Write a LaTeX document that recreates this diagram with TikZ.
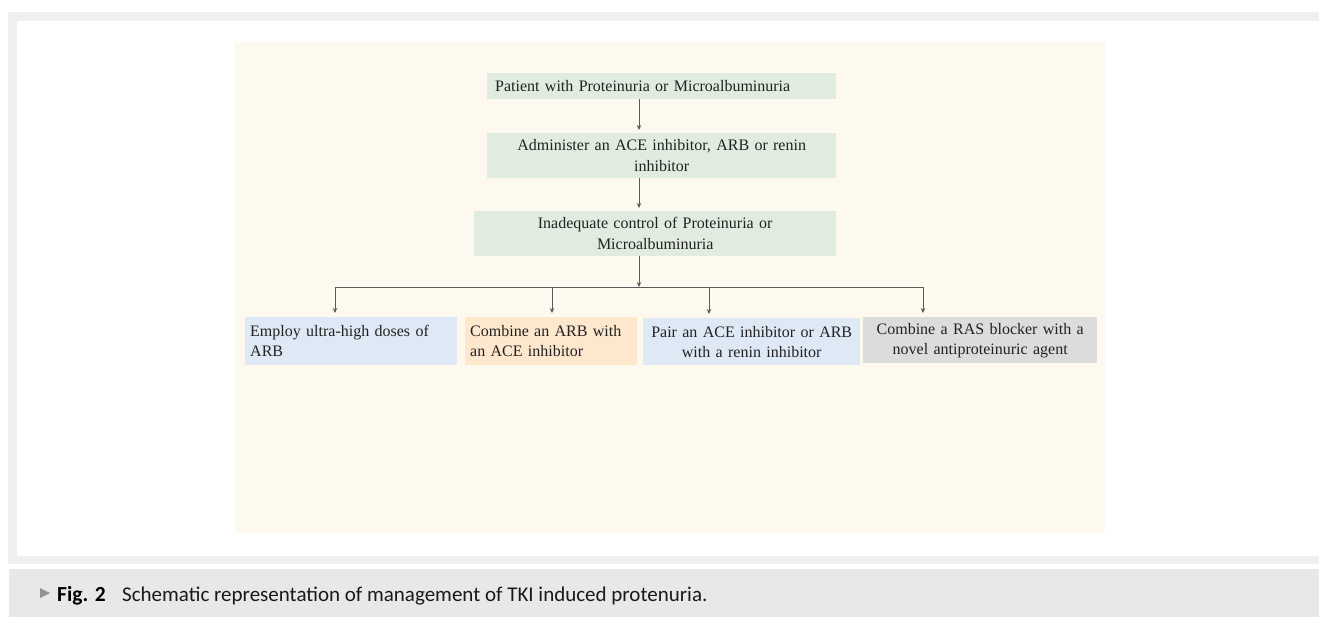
\documentclass[tikz,border=0pt]{standalone}
\usepackage{fontspec}
\setmainfont{Liberation Serif}
\newfontfamily\capfont{Carlito}
\usetikzlibrary{arrows.meta}
\definecolor{frameg}{HTML}{F0F0F0}
\definecolor{capg}{HTML}{E8E8E8}
\definecolor{cream}{HTML}{FEF9EE}
\definecolor{boxgreen}{HTML}{DFECDF}
\definecolor{boxblue}{HTML}{DEE9F5}
\definecolor{boxpeach}{HTML}{FDE8CE}
\definecolor{boxgray}{HTML}{DCDCDC}
\definecolor{linec}{HTML}{5A5A5A}
\definecolor{txt}{HTML}{222222}
\tikzset{
  flowbox/.style={anchor=north west, inner ysep=0pt, text=txt,
    font=\fontsize{16}{21}\selectfont},
  conn/.style={draw=linec, line width=0.8pt},
  arr/.style={conn, -{Stealth[length=5pt,width=4.5pt]}},
}
\begin{document}
\begin{tikzpicture}[x=1pt,y=-1pt]
\useasboundingbox (0,0) rectangle (1319,617);
\fill[white] (0,0) rectangle (1319,617);
% frame
\fill[frameg] (8,12) rectangle (1319,564);
\fill[white] (17,21) rectangle (1319,556);
\fill[capg] (9,569) rectangle (1319,617);
% cream panel
\fill[cream] (235,42) rectangle (1105,533);
% boxes
\node[flowbox, fill=boxgreen, minimum width=349pt, minimum height=26pt,
  text width=333pt, inner xsep=8pt, align=left] (b1) at (487,73)
  {Patient with Proteinuria or Microalbuminuria};
\node[flowbox, fill=boxgreen, minimum width=349pt, minimum height=45pt,
  text width=337pt, inner xsep=6pt, align=center] (b2) at (487,133)
  {Administer an ACE inhibitor, ARB or renin\\inhibitor};
\node[flowbox, fill=boxgreen, minimum width=362pt, minimum height=45pt,
  text width=350pt, inner xsep=6pt, align=center] (b3) at (474,211)
  {Inadequate control of Proteinuria or\\Microalbuminuria};
\node[flowbox, fill=boxblue, minimum width=212pt, minimum height=48pt,
  text width=202pt, inner xsep=5pt, align=left,
  font=\fontsize{16}{20}\selectfont] (ba) at (245,317)
  {Employ ultra-high doses of\\ARB};
\node[flowbox, fill=boxpeach, minimum width=172pt, minimum height=48pt,
  text width=162pt, inner xsep=5pt, align=left,
  font=\fontsize{16}{20}\selectfont] (bb) at (465,317)
  {Combine an ARB with\\an ACE inhibitor};
\node[flowbox, fill=boxblue, minimum width=217pt, minimum height=47pt,
  text width=207pt, inner xsep=5pt, align=center,
  font=\fontsize{16}{20}\selectfont] (bc) at (643,318)
  {Pair an ACE inhibitor or ARB\\with a renin inhibitor};
\node[flowbox, fill=boxgray, minimum width=234pt, minimum height=46pt,
  text width=224pt, inner xsep=5pt, align=center,
  font=\fontsize{16}{20}\selectfont] (bd) at (863,317)
  {Combine a RAS blocker with a\\novel antiproteinuric agent};
% connectors
\coordinate (ax) at (639,0);
\coordinate (j) at (639,287);
\coordinate (jl) at (335,287);
\coordinate (j2) at (552,287);
\coordinate (j3) at (709,287);
\coordinate (jr) at (923,287);
\draw[arr, shorten >=3pt] (b1.south -| ax) -- (b2.north -| ax);
\draw[arr, shorten >=3pt] (b2.south -| ax) -- (b3.north -| ax);
\draw[arr] (b3.south -| ax) -- (j);
\draw[conn] (jl) -- (jr);
\draw[arr, shorten >=4pt] (jl) -- (ba.north -| jl);
\draw[arr, shorten >=4pt] (j2) -- (bb.north -| j2);
\draw[arr, shorten >=4pt] (j3) -- (bc.north -| j3);
\draw[arr, shorten >=4pt] (jr) -- (bd.north -| jr);
% caption
\fill[gray!85] (40,588) -- (50,593) -- (40,598) -- cycle;
\node[anchor=base west, inner sep=0pt, text=black,
  font=\capfont\bfseries\fontsize{21.5}{24}\selectfont] (fig) at (57,601) {Fig. 2};
\node[anchor=base west, inner sep=0pt, text=black!90,
  font=\capfont\fontsize{21}{24}\selectfont] (cap) at (122,601)
  {Schematic representation of management of TKI induced protenuria.};
\end{tikzpicture}
\end{document}
